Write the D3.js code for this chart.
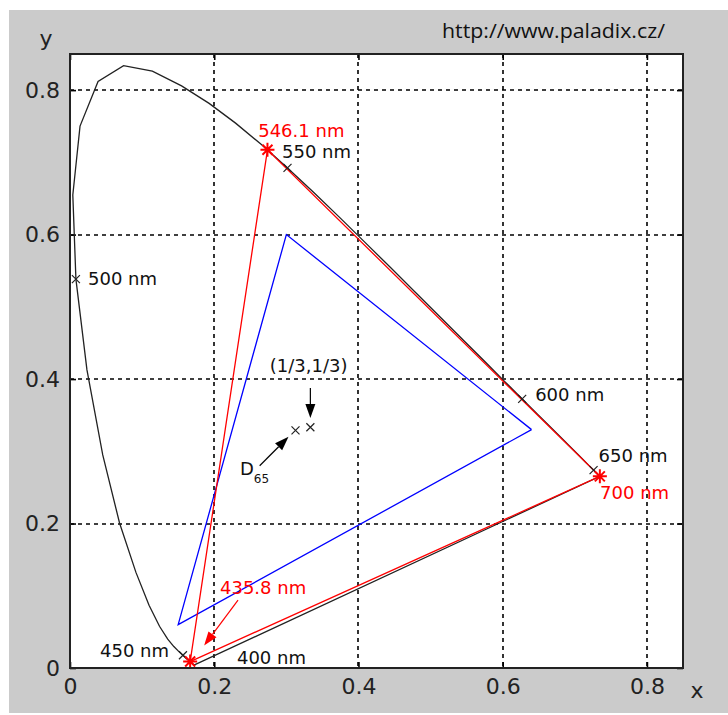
<!DOCTYPE html>
<html>
<head>
<meta charset="utf-8">
<script src="https://cdn.jsdelivr.net/npm/d3@7"></script>
<style>
  body { margin: 0; background: #fff; }
  text { font-family: "DejaVu Sans", sans-serif; }
</style>
</head>
<body>
<div id="chart"></div>
<script>
// CIE 1931 spectral locus, 380-700 nm every 5 nm
var locusNm = [380,385,390,395,400,405,410,415,420,425,430,435,440,445,450,455,460,465,470,475,
  480,485,490,495,500,505,510,515,520,525,530,535,540,545,550,555,560,565,570,575,580,585,590,595,
  600,605,610,615,620,625,630,635,640,645,650,655,660,665,670,675,680,685,690,695,700];
var locusX = [0.1741,0.1740,0.1738,0.1736,0.1733,0.1730,0.1726,0.1721,0.1714,0.1703,0.1689,0.1669,0.1644,0.1611,0.1566,0.1510,0.1440,0.1355,0.1241,0.1096,
  0.0913,0.0687,0.0454,0.0235,0.0082,0.0039,0.0139,0.0389,0.0743,0.1142,0.1547,0.1929,0.2296,0.2658,0.3016,0.3373,0.3731,0.4087,0.4441,0.4788,0.5125,0.5448,0.5752,0.6029,
  0.6270,0.6482,0.6658,0.6801,0.6915,0.7006,0.7079,0.7140,0.7190,0.7230,0.7260,0.7283,0.7300,0.7311,0.7320,0.7327,0.7334,0.7340,0.7344,0.7346,0.7347];
var locusY = [0.0050,0.0050,0.0049,0.0049,0.0048,0.0048,0.0048,0.0048,0.0051,0.0058,0.0069,0.0086,0.0109,0.0138,0.0177,0.0227,0.0297,0.0399,0.0578,0.0868,
  0.1327,0.2007,0.2950,0.4127,0.5384,0.6548,0.7502,0.8120,0.8338,0.8262,0.8059,0.7816,0.7543,0.7243,0.6923,0.6589,0.6245,0.5896,0.5547,0.5202,0.4866,0.4544,0.4242,0.3965,
  0.3725,0.3514,0.3340,0.3197,0.3083,0.2993,0.2920,0.2859,0.2809,0.2770,0.2740,0.2717,0.2700,0.2689,0.2680,0.2673,0.2666,0.2660,0.2656,0.2654,0.2653];

// marked wavelengths (black x)
var markNm = [450, 500, 550, 600, 650];

// CIE RGB primaries (red)
var rgbNames = ["435.8 nm", "546.1 nm", "700 nm"];
var rgbX = [0.1666, 0.2738, 0.7347];
var rgbY = [0.0089, 0.7174, 0.2653];

// sRGB primaries (blue)
var srgbX = [0.64, 0.30, 0.15];
var srgbY = [0.33, 0.60, 0.06];

// white points
var whiteNames = ["D65", "(1/3,1/3)"];
var whiteX = [0.3127, 0.3333];
var whiteY = [0.3290, 0.3333];

var ticks = [0, 0.2, 0.4, 0.6, 0.8];

var margin = {top: 54, right: 45, bottom: 47, left: 70};
var W = 728, H = 715;
var width = W - margin.left - margin.right;
var height = H - margin.top - margin.bottom;

var svg = d3.select("#chart").append("svg").attr("width", W).attr("height", H);
svg.append("rect").attr("x", 9).attr("y", 10).attr("width", W - 9).attr("height", 703).attr("fill", "#cbcbcb");

var x = d3.scaleLinear().domain([0, 0.85]).range([0, width]);
var y = d3.scaleLinear().domain([0, 0.85]).range([height, 0]);

var g = svg.append("g").attr("transform", "translate(" + margin.left + "," + margin.top + ")");
g.append("rect").attr("width", width).attr("height", height).attr("fill", "#fff");

// grid
var grid = ticks.filter(d => d > 0);
g.selectAll(".vgrid").data(grid).enter().append("line")
  .attr("x1", d => Math.round(x(d))).attr("x2", d => Math.round(x(d)))
  .attr("y1", 0).attr("y2", height)
  .attr("stroke", "#000").attr("stroke-width", 1.6).attr("stroke-dasharray", "4,4");
g.selectAll(".hgrid").data(grid).enter().append("line")
  .attr("y1", d => Math.round(y(d))).attr("y2", d => Math.round(y(d)))
  .attr("x1", 0).attr("x2", width)
  .attr("stroke", "#000").attr("stroke-width", 1.6).attr("stroke-dasharray", "4,4");

// axes with inward ticks
g.append("g").attr("transform", "translate(0," + height + ")")
  .call(d3.axisBottom(x).tickValues(ticks).tickSizeInner(-6).tickSizeOuter(0).tickPadding(10).tickFormat(d3.format("")));
g.append("g")
  .call(d3.axisLeft(y).tickValues(ticks).tickSizeInner(-6).tickSizeOuter(0).tickPadding(10).tickFormat(d3.format("")));
g.append("g").call(d3.axisTop(x).tickValues(ticks).tickSizeInner(-6).tickSizeOuter(0).tickFormat(""));
g.append("g").attr("transform", "translate(" + width + ",0)")
  .call(d3.axisRight(y).tickValues(ticks).tickSizeInner(-6).tickSizeOuter(0).tickFormat(""));
g.selectAll(".domain").remove();
g.selectAll(".tick line").attr("stroke", "#000").attr("stroke-width", 1.6);
g.selectAll(".tick text").attr("font-size", 22).attr("fill", "#222").style("font-family", "DejaVu Sans");

// spectral locus and purple line
var pts = locusNm.map((d, i) => [locusX[i], locusY[i]]);
pts.push(pts[0]);
var line = d3.line().x(d => x(d[0])).y(d => y(d[1]));
g.append("path").attr("d", line(pts)).attr("fill", "none").attr("stroke", "#222").attr("stroke-width", 1.3);

// sRGB triangle
var sPts = srgbX.map((d, i) => [d, srgbY[i]]);
sPts.push(sPts[0]);
g.append("path").attr("d", line(sPts)).attr("fill", "none").attr("stroke", "#0000ff").attr("stroke-width", 1.3);

// CIE RGB triangle
var rPts = rgbX.map((d, i) => [d, rgbY[i]]);
rPts.push(rPts[0]);
g.append("path").attr("d", line(rPts)).attr("fill", "none").attr("stroke", "#ff0000").attr("stroke-width", 1.3);

// x markers
function cross(cx, cy, r) {
  return "M" + (cx - r) + "," + (cy - r) + "L" + (cx + r) + "," + (cy + r) +
    "M" + (cx - r) + "," + (cy + r) + "L" + (cx + r) + "," + (cy - r);
}
markNm.forEach(function (nm) {
  var i = locusNm.indexOf(nm);
  g.append("path").attr("d", cross(x(locusX[i]), y(locusY[i]), 4)).attr("stroke", "#222").attr("stroke-width", 1.2);
});
whiteX.forEach(function (d, i) {
  g.append("path").attr("d", cross(x(d), y(whiteY[i]), 4)).attr("stroke", "#222").attr("stroke-width", 1.2);
});

// red asterisks
rgbX.forEach(function (d, i) {
  var cx = x(d), cy = y(rgbY[i]), r = 7, q = 5;
  g.append("path")
    .attr("d", "M" + (cx - r) + "," + cy + "H" + (cx + r) + "M" + cx + "," + (cy - r) + "V" + (cy + r) + cross(cx, cy, q))
    .attr("stroke", "#ff0000").attr("stroke-width", 2);
});

// arrows
function arrow(x0, y0, x1, y1, color) {
  var ax = x(x0), ay = y(y0), bx = x(x1), by = y(y1);
  var ang = Math.atan2(by - ay, bx - ax), L = 14, w = 5;
  var hx = bx - L * Math.cos(ang), hy = by - L * Math.sin(ang);
  g.append("line").attr("x1", ax).attr("y1", ay).attr("x2", hx).attr("y2", hy)
    .attr("stroke", color).attr("stroke-width", 1.2);
  g.append("path").attr("d", "M" + bx + "," + by +
      "L" + (hx + w * Math.sin(ang)) + "," + (hy - w * Math.cos(ang)) +
      "L" + (hx - w * Math.sin(ang)) + "," + (hy + w * Math.cos(ang)) + "Z")
    .attr("fill", color);
}
arrow(0.3333, 0.3875, 0.3333, 0.346, "#000");
arrow(0.263, 0.280, 0.303, 0.320, "#000");
arrow(0.233, 0.094, 0.186, 0.031, "#ff0000");

// labels (data coords = left/baseline position)
var labels = [
  {t: "546.1 nm", x: 0.261, y: 0.735, c: "#ff0000"},
  {t: "550 nm", x: 0.294, y: 0.706, c: "#111"},
  {t: "500 nm", x: 0.025, y: 0.530, c: "#111"},
  {t: "600 nm", x: 0.645, y: 0.370, c: "#111"},
  {t: "650 nm", x: 0.733, y: 0.285, c: "#111"},
  {t: "700 nm", x: 0.735, y: 0.234, c: "#ff0000"},
  {t: "435.8 nm", x: 0.208, y: 0.102, c: "#ff0000"},
  {t: "450 nm", x: 0.0416, y: 0.0152, c: "#111"},
  {t: "400 nm", x: 0.2315, y: 0.0055, c: "#111"},
  {t: whiteNames[1], x: 0.277, y: 0.410, c: "#111"}
];
g.selectAll(".lbl").data(labels).enter().append("text")
  .attr("x", d => x(d.x)).attr("y", d => y(d.y))
  .attr("font-size", 18).attr("fill", d => d.c).text(d => d.t);
var dl = g.append("text").attr("x", x(0.2357)).attr("y", y(0.267)).attr("font-size", 18).attr("fill", "#111");
dl.append("tspan").text(whiteNames[0].slice(0, 1));
dl.append("tspan").attr("font-size", 12).attr("dy", 8).text(whiteNames[0].slice(1));

// box
g.append("rect").attr("width", width).attr("height", height).attr("fill", "none")
  .attr("stroke", "#222").attr("stroke-width", 2).attr("shape-rendering", "crispEdges");

// axis labels
svg.append("text").attr("x", 46).attr("y", 46).attr("text-anchor", "middle").attr("font-size", 22).attr("fill", "#222").text("y");
svg.append("text").attr("x", 697).attr("y", 698).attr("text-anchor", "middle").attr("font-size", 22).attr("fill", "#222").text("x");

// url
svg.append("text").attr("x", 442).attr("y", 38).attr("font-size", 20)
  .attr("textLength", 223).attr("lengthAdjust", "spacingAndGlyphs")
  .style("font-family", "'Open Sans', sans-serif").attr("fill", "#111").text("http://www.paladix.cz/");
</script>
</body>
</html>
